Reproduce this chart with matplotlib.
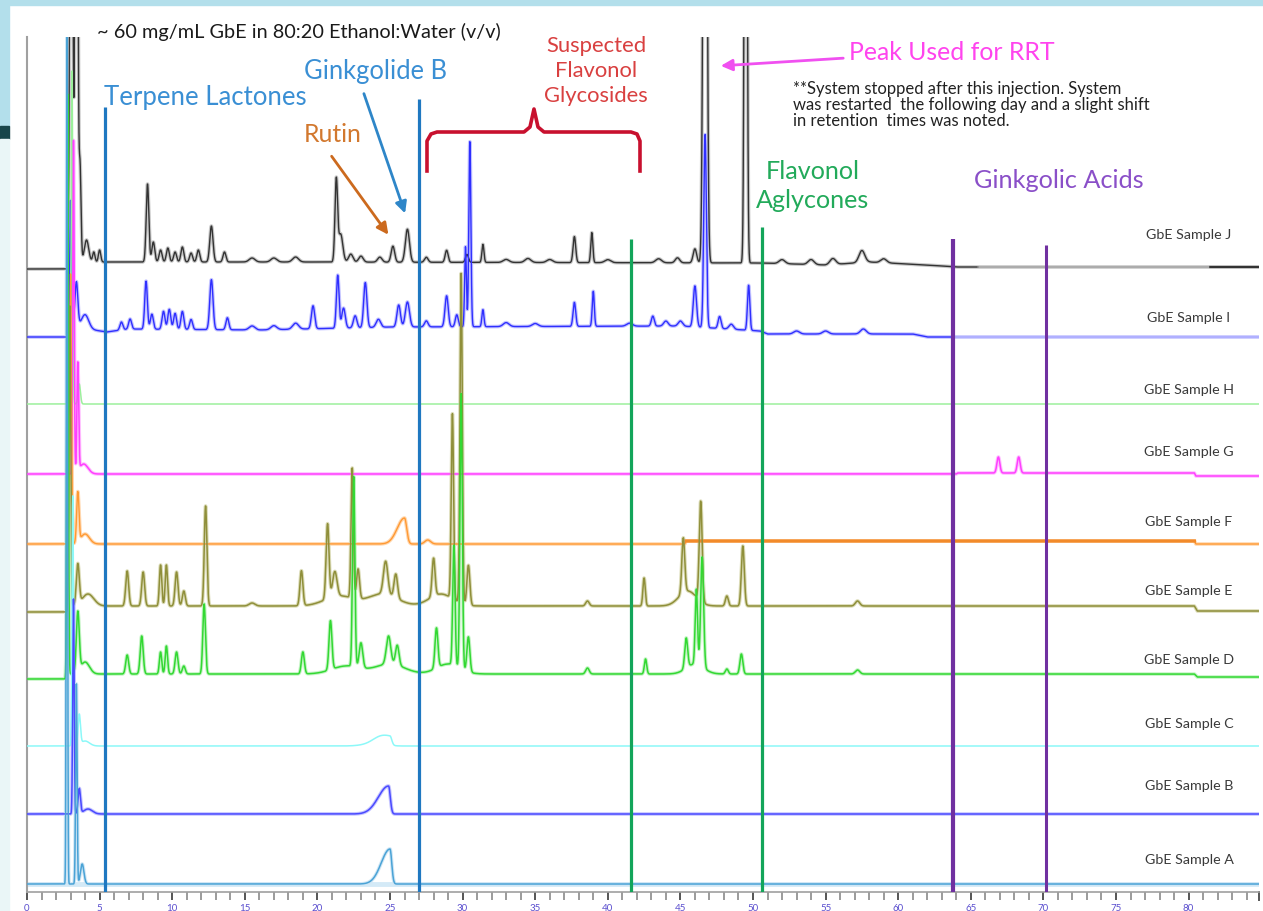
import numpy as np
import matplotlib.pyplot as plt
from matplotlib.patches import Rectangle

plt.rcParams['font.family'] = ['Lato', 'DejaVu Sans']

# ---------------- data ----------------
# retention time axis (min)
x_max = 84.85
y_max = 855

# baseline knots per sample: (time, level)
J_base = [(0, 623), (2.75, 623), (2.8, 630), (20, 630), (50.6, 629), (55, 627), (58, 630), (62, 627), (64, 625), (85, 625)]
I_base = [(0, 555), (2.75, 555), (2.8, 566), (5.5, 560), (7, 563), (16, 562), (25, 565), (45, 566), (50.5, 561), (51, 558), (61, 558), (62, 555), (85, 555)]
H_base = [(0, 488), (85, 488)]
G_base = [(0, 418), (64, 418), (64.1, 419), (80.4, 419), (80.5, 416), (85, 416)]
F_base = [(0, 348), (45.3, 348), (45.4, 351), (80.4, 351), (80.5, 348), (85, 348)]
E_base = [(0, 280), (2.75, 280), (2.8, 286), (80.4, 286), (80.6, 281), (85, 281)]
D_base = [(0, 213), (2.75, 213), (2.8, 218), (80.4, 218), (80.6, 215), (85, 215)]
C_base = [(0, 146), (85, 146)]
B_base = [(0, 78), (85, 78)]
A_base = [(0, 8), (85, 8)]

# peaks: (retention time, height, width[, front width])
J_peaks = [(3.05, 900, .08), (3.4, 900, .08), (3.65, 96, .07), (4.1, 22, .15), (4.6, 10, .08), (5.0, 12, .08),
           (8.3, 78, .09), (8.7, 20, .1), (9.2, 12, .1), (9.7, 14, .1), (10.2, 10, .1), (10.7, 15, .1),
           (11.3, 9, .1), (11.8, 12, .1), (12.7, 36, .11), (13.6, 10, .1), (15.5, 4, .2), (17, 4, .2),
           (18.5, 5, .2), (21.3, 81, .09), (21.6, 28, .15), (22.3, 8, .15), (23.0, 6, .15), (24.3, 5, .15),
           (25.2, 16, .12), (26.2, 33, .14), (27.5, 5, .12), (28.9, 12, .1), (30.3, 8, .1), (31.4, 18, .07),
           (33, 3, .2), (34.5, 4, .2), (36, 3, .2), (37.7, 26, .09), (38.9, 30, .07), (40, 3, .2),
           (43.5, 4, .2), (44.8, 5, .15), (46.0, 14, .12), (46.7, 900, .11), (49.5, 900, .08),
           (52, 4, .2), (54, 5, .2), (55.5, 6, .2), (57.5, 12, .2), (59, 4, .2)]
I_peaks = [(3.0, 126, .05), (3.4, 45, .1), (4.0, 14, .25), (6.5, 8, .1), (7.1, 10, .1), (8.2, 48, .09),
           (8.6, 15, .1), (9.4, 18, .1), (9.8, 20, .1), (10.2, 16, .1), (10.7, 18, .1), (11.3, 10, .1),
           (12.7, 50, .11), (13.8, 12, .1), (15.5, 4, .2), (17, 4, .2), (18.5, 6, .2), (19.7, 23, .11),
           (21.4, 53, .09), (21.8, 20, .12), (22.6, 12, .12), (23.3, 45, .11), (24.2, 8, .15), (25.6, 22, .12),
           (26.2, 25, .14), (27.5, 6, .12), (28.9, 31, .11), (29.6, 12, .1), (30.2, 80, .06), (30.5, 185, .07),
           (31.4, 17, .07), (33, 4, .2), (35, 3, .2), (37.7, 24, .09), (39.0, 35, .07), (41.5, 3, .2),
           (43.1, 10, .1), (44, 5, .15), (45.0, 5, .15), (46.0, 41, .11), (46.7, 193, .09), (47.7, 12, .1),
           (48.5, 5, .15), (49.7, 45, .08), (53, 3, .2), (55, 3, .2), (57.6, 5, .2)]
H_peaks = [(3.1, 333, .05), (3.6, 20, .08)]
G_peaks = [(3.2, 333, .05), (3.5, 108, .06), (3.9, 10, .3), (66.9, 16, .1), (68.3, 16, .1)]
F_peaks = [(3.0, 270, .06), (3.5, 50, .08), (4.0, 10, .3), (26.0, 26, .15, .5), (27.6, 4, .2)]
E_peaks = [(2.95, 300, .06), (3.5, 40, .1), (4.2, 12, .4), (6.9, 35, .1), (8.0, 34, .1), (9.2, 41, .08),
           (9.6, 41, .08), (10.3, 34, .1), (10.8, 15, .1), (12.3, 100, .09), (15.5, 3, .2), (18.9, 35, .1),
           (20.7, 75, .1), (21.2, 25, .15), (21.5, 10, 1.0), (22.4, 130, .08), (22.8, 30, .1), (24.5, 12, 1.0),
           (24.7, 33, .15), (25.4, 24, .12), (28.0, 38, .1), (28.5, 12, .8), (29.3, 185, .08), (29.9, 330, .08),
           (30.4, 40, .1), (38.6, 5, .12), (42.5, 28, .08), (45.2, 55, .1), (45.5, 15, .6), (46.4, 100, .1),
           (48.2, 10, .1), (49.3, 60, .1), (57.2, 5, .15)]
D_peaks = [(2.8, 580, .05), (3.5, 60, .1), (4.0, 12, .3), (6.9, 19, .1), (7.9, 38, .1), (9.2, 22, .08),
           (9.6, 28, .08), (10.3, 22, .1), (10.8, 8, .1), (12.2, 70, .09), (19.0, 22, .1), (20.9, 49, .1),
           (22.0, 8, 1.0), (22.5, 190, .08), (23.0, 25, .12), (24.9, 28, .15), (25.0, 10, 1.0), (25.5, 20, .12),
           (28.2, 40, .1), (29.0, 10, .8), (29.4, 120, .08), (29.9, 275, .08), (30.4, 35, .1), (38.6, 6, .12),
           (42.6, 15, .08), (45.4, 30, .1), (46.0, 10, .6), (46.1, 75, .08), (46.5, 110, .1), (48.2, 5, .1),
           (49.2, 20, .1), (57.2, 4, .15)]
C_peaks = [(3.15, 250, .05), (3.6, 30, .08), (4.0, 5, .3), (24.3, 3, .5), (25.0, 9, .12, 1.0)]
B_peaks = [(3.2, 215, .05), (3.6, 25, .08), (4.2, 5, .3), (24.9, 28, .12, .7)]
A_peaks = [(2.75, 850, .04), (3.4, 200, .05), (3.8, 20, .12), (25.0, 35, .12, .6)]

sample_names = ['GbE Sample J', 'GbE Sample I', 'GbE Sample H', 'GbE Sample G', 'GbE Sample F',
                'GbE Sample E', 'GbE Sample D', 'GbE Sample C', 'GbE Sample B', 'GbE Sample A']
bases = [J_base, I_base, H_base, G_base, F_base, E_base, D_base, C_base, B_base, A_base]
peaks = [J_peaks, I_peaks, H_peaks, G_peaks, F_peaks, E_peaks, D_peaks, C_peaks, B_peaks, A_peaks]
colors = ['#333333', '#2f2fff', '#9cf09c', '#ff40ff', '#ff9933', '#8f8f3a', '#33d833', '#8cf8f8', '#4a4aff', '#4aa3d6']
halos = ['#c8c8c8', '#c4c4ff', None, '#ffc0ff', '#ffd8b0', '#dcdcb8', '#c4f4c4', None, '#c4c4ff', '#cfe6f5']
label_y = [658, 575, 503, 441, 371, 302, 233, 169, 107, 33]

# region marker lines: time, top, colour, width
region_t = [5.35, 27.0, 41.6, 50.6, 63.8, 70.2]
region_top = [785, 793, 653, 665, 653, 647]
region_c = ['#1f78c1', '#1f78c1', '#13a55a', '#13a55a', '#7030a0', '#7030a0']
region_lw = [2.3, 2.3, 2.3, 2.3, 3.0, 2.2]

t = np.arange(0, 85.0001, 0.005)


def trace(base, pk):
    bt, by = zip(*base)
    y = np.interp(t, bt, by).astype(float)
    for p in pk:
        rt, h, w = p[:3]
        wl = p[3] if len(p) > 3 else w
        s = np.where(t < rt, wl, w)
        y += h * np.exp(-0.5 * ((t - rt) / s) ** 2)
    return y


def P(px, py):
    # picture pixel -> data coords (for annotations only)
    return ((px - 27) / 14.52, 893 - py)


fig = plt.figure(figsize=(12.63, 9.12), dpi=100)
fig.patch.set_facecolor('white')
fig.patches.append(Rectangle((0, 1 - 6 / 912), 1, 6 / 912, transform=fig.transFigure, color='#b3dfeb', zorder=0))
fig.patches.append(Rectangle((0, 1 - 127 / 912), 9 / 1263, 127 / 912, transform=fig.transFigure, color='#b3dfeb', zorder=0))
fig.patches.append(Rectangle((0, 1 - 140 / 912), 9 / 1263, 13 / 912, transform=fig.transFigure, color='#17454a', zorder=0))
fig.patches.append(Rectangle((0, 0), 9 / 1263, 1 - 140 / 912, transform=fig.transFigure, color='#eaf6f7', zorder=0))

ax = fig.add_axes([27 / 1263, 19 / 912, (1259 - 27) / 1263, 855 / 912])
ax.set_xlim(0, x_max)
ax.set_ylim(0, y_max)
ax.patch.set_alpha(0)

# pale band under sample A
ax.plot([0, x_max], [A_base[0][1]] * 2, color='#d4eaf7', lw=3.5, zorder=1)

for name, b, pk, c, hc, ly in zip(sample_names, bases, peaks, colors, halos, label_y):
    y = trace(b, pk)
    if hc:
        ax.plot(t, y, color=hc, lw=2.6, zorder=2, solid_joinstyle='round')
    if name == 'GbE Sample J':
        ax.plot(np.where(t <= 65.5, t, np.nan), y, color=c, lw=1.0, zorder=3)
        ax.plot(np.where((t >= 65.5) & (t <= 81.5), t, np.nan), y, color='#a0a0a0', lw=1.0, zorder=3)
        ax.plot(np.where(t >= 81.5, t, np.nan), y, color=c, lw=1.6, zorder=3)
    elif name == 'GbE Sample I':
        ax.plot(np.where(t <= 63.8, t, np.nan), y, color=c, lw=1.0, zorder=3)
        ax.plot(np.where(t >= 63.8, t, np.nan), y, color='#a8a8ff', lw=1.0, zorder=3)
    elif name == 'GbE Sample F':
        ax.plot(t, y, color=c, lw=1.0, zorder=3)
        ax.plot(np.where((t >= 45.4) & (t <= 80.4), t, np.nan), y, color='#f28a2a', lw=2.4, zorder=3)
    else:
        ax.plot(t, y, color=c, lw=1.1, zorder=3)
    ax.text(P(1189, 0)[0], ly, name, ha='center', va='center', fontsize=10.3, color='#3a3a3a')

for rt, top, c, lw in zip(region_t, region_top, region_c, region_lw):
    ax.plot([rt, rt], [0, top], color=c, lw=lw, zorder=5, solid_capstyle='butt')

# axes styling
for s in ['top', 'right']:
    ax.spines[s].set_visible(False)
ax.spines['left'].set_color('#a0a0a0')
ax.spines['left'].set_linewidth(1.5)
ax.spines['bottom'].set_color('#a0a0a0')
ax.spines['bottom'].set_linewidth(1.2)
ax.set_yticks([])
ax.set_xticks(np.arange(0, 81, 5))
ax.set_xticks(np.arange(0, 85, 1), minor=True)
ax.tick_params(axis='x', which='major', direction='out', length=6, width=1.4, color='#555555',
               labelsize=7, labelcolor='#5b4fcf', pad=2)
ax.tick_params(axis='x', which='minor', direction='out', length=6, width=1.2, color='#8a8a8a')
ax.plot([x_max, x_max], [0, -8], color='#555555', lw=1.4, clip_on=False)

# annotations
ax.text(*P(97, 32), '~ 60 mg/mL GbE in 80:20 Ethanol:Water (v/v)', fontsize=14.3, color='#1a1a1a', va='center')
ax.text(*P(104, 98), 'Terpene Lactones', fontsize=18.5, color='#3a8fd4', va='center')
ax.text(*P(304, 72), 'Ginkgolide B', fontsize=18.4, color='#3a8fd4', va='center')
ax.text(*P(304, 134), 'Rutin', fontsize=17.8, color='#d2782e', va='center')
ax.text(*P(596, 71), 'Suspected\nFlavonol\nGlycosides', fontsize=15.8, color='#d94040', va='center',
        ha='center', multialignment='center', linespacing=1.3)
ax.text(*P(849, 52), 'Peak Used for RRT', fontsize=17.9, color='#ff44ee', va='center')
ax.text(*P(793, 105), '**System stopped after this injection. System\nwas restarted  the following day and a slight shift\n'
        'in retention  times was noted.', fontsize=12, color='#222222', va='center', linespacing=1.02)
ax.text(*P(813, 186), 'Flavonol\nAglycones', fontsize=18.1, color='#22aa5a', va='center', ha='center',
        multialignment='center', linespacing=1.3)
ax.text(*P(974, 180), 'Ginkgolic Acids', fontsize=18.2, color='#8a4fc8', va='center')

arrow = dict(arrowstyle='-|>', lw=2, mutation_scale=17)
ax.annotate('', xy=P(390, 238), xytext=P(330, 155), annotation_clip=False,
            arrowprops=dict(arrow, color='#cc6a1e'))
ax.annotate('', xy=P(406, 217), xytext=P(363, 92), annotation_clip=False,
            arrowprops=dict(arrow, color='#2e86c8'))
ax.annotate('', xy=P(718, 67), xytext=P(846, 59), annotation_clip=False,
            arrowprops=dict(arrow, color='#f050f0'))

# bracket over the flavonol glycoside window
bx = [427, 427, 431, 437, 524, 530, 534, 538, 544, 631, 637, 640, 640]
by = [172, 142, 135, 133, 133, 128, 110, 128, 133, 133, 135, 142, 172]
bxy = [P(a, b) for a, b in zip(bx, by)]
ax.plot([p[0] for p in bxy], [p[1] for p in bxy], color='#c8102e', lw=2.6, clip_on=False,
        solid_joinstyle='round', zorder=6)

fig.savefig('out.png', dpi=100)
